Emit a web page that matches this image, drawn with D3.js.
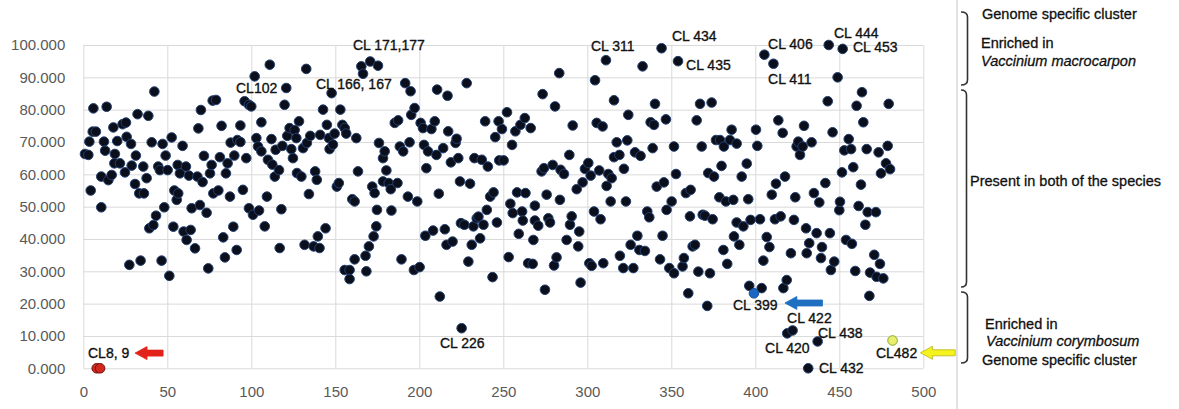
<!DOCTYPE html>
<html>
<head>
<meta charset="utf-8">
<script src="https://cdn.jsdelivr.net/npm/d3@7"></script>
<style>
  html, body { margin: 0; padding: 0; background: #fff; }
  svg { display: block; font-family: "Liberation Sans", Arial, sans-serif; }
</style>
</head>
<body>
<script>
//Cluster number (x) and value (y) of every dark point.
var clusterPoints = [
  [1,66.3],[3,66],[3.6,70.1],[4.4,55],[6,80.4],[5.6,73.2],[7.5,73.2],[10.7,59.3],[10.7,49.8],[12.3,70.1],
  [13,67.3],[13.9,80.9],[14.9,58.2],[16.9,59.8],[17.9,74.5],[18.8,66.3],[18.5,63.4],[20.2,70.3],[21.8,63.4],[23.4,75.5],
  [25.4,76],[24.8,60.6],[25.8,71.6],[27.4,32],[28.4,69.4],[28.8,62.7],[30.8,57],[31.3,65.8],[32.3,78.6],[33.3,54.1],
  [34.1,33.3],[35.7,62.4],[36.1,54.1],[37.7,58.8],[38.7,78.1],[39.3,43.3],[40.7,69.9],[41.7,44.3],[42.3,85.6],[43.3,47.2],
  [44.6,62.4],[45.6,61.3],[46.6,33.3],[47.2,69.4],[48.2,49.8],[49,65.8],[50.2,61.3],[51.2,28.6],[52.6,71.4],[53.6,43.8],
  [54.2,55],[55.6,52.1],[56.2,62.9],[56.5,54.1],[57.5,60.3],[59.1,68.8],[59.7,42.3],[61.1,62.4],[61.5,39.7],[62.9,59.6],
  [63.9,42.8],[64.5,49.5],[66.5,37.1],[67.9,59.3],[68.5,74.2],[69.4,50.5],[70,79.9],[71,57.6],[71.8,65.7],[73.4,48.1],
  [74.4,30.9],[75.4,60.3],[76.4,62.9],[77,82.8],[77.4,54.1],[79,83],[80.4,55],[81.3,65.3],[82.3,75],[83.3,40.5],
  [84.3,34.3],[84.9,60.3],[85.9,63.4],[87.3,53.1],[87.7,69.8],[89.3,43.8],[89.9,65.8],[91.3,36.6],[91.7,70.6],[93.5,70],
  [93.5,75.1],[95,55.2],[97,65],[96,82.6],[98.6,81.5],[100,81],[102,90.3],[98.6,49.5],[101,47.5],[104.6,48.8],
  [108,43.9],[106,76.1],[103,71.2],[104,68.6],[106,67.1],[109.3,53.1],[109.9,64.5],[111,93.9],[112,70.9],[112.5,63],
  [114,59.3],[114.5,67.6],[116.5,61.3],[117.9,49.2],[116.9,37.2],[118.5,68.8],[119.8,81.5],[120.8,86.7],[121.4,71.9],[122.8,74.3],
  [123.8,67.8],[124.8,65],[125.8,73.7],[126.8,71.2],[128.4,76.4],[127.2,60.4],[129.8,59.3],[130.8,68.1],[131.7,38.2],[132.7,92.6],
  [133.1,69.7],[134.3,53.9],[135.1,71.9],[137.1,37.7],[138,60.9],[139,58.3],[139.6,40.8],[140.6,37.2],[141,72.2],[142.7,80],
  [144.2,43.3],[145,75.3],[146.2,71.2],[146.6,67.8],[147.8,85.1],[148.6,69.2],[149.6,72.6],[150.9,56.2],[152.1,57.3],[153,80],
  [154.2,75.3],[155.6,74.3],[156.5,72.6],[155.6,30.4],[158.5,30.4],[158.5,27.6],[160.1,52.3],[161.5,51.6],[161.5,33.7],[162.5,71.2],
  [163.5,60.9],[165.5,93.4],[166.5,91.1],[168,34.8],[168.5,30],[170,37.7],[170.8,94.9],[172,56.2],[172.8,40.8],[173.4,54.2],
  [174.4,43.9],[174.8,49],[175.4,93.6],[176,69.7],[178.4,65],[179.4,67.1],[180.4,61.2],[178.4,57.8],[181.8,57.3],[183,55.4],
  [183.4,48.8],[185.4,75.9],[187.4,76.7],[187,57.3],[188.4,68.6],[190.4,67.1],[189.4,33.7],[191.6,88.2],[193.2,53.1],[194.2,69.9],
  [194.8,85.7],[195.2,78.4],[197.2,80.5],[196.8,30.4],[198.8,51.6],[200.2,31.3],[200.8,75.9],[202.2,74.3],[202.8,69.1],[204.2,61.9],
  [203.6,41],[205.2,67.1],[207.2,74],[208.2,42.6],[209.2,76.4],[210.2,66],[210.6,86.2],[211.6,54],[212.2,22.2],[214.2,68.1],
  [215.2,43],[216.2,38.2],[216.8,84.3],[217.2,73.3],[218.8,63.7],[219.8,39.2],[221.6,69.7],[222.2,71],[223.2,65],[224.2,57.8],
  [225.2,12.4],[224.8,44.9],[226.8,44.4],[228.2,88.2],[229.2,33],[230.2,57.1],[231.2,38.2],[232.2,43.9],[232.8,65],[234.2,46.4],
  [235.2,46.9],[236.2,40.2],[237.2,64.5],[238.2,44.4],[239.2,76.4],[240.2,49],[240.8,62.4],[242.2,53.1],[243.6,28.2],[244.2,54.4],
  [245.2,71.5],[246.2,45.1],[247.2,76.4],[247.6,64.3],[249.2,74],[250.2,64.3],[252.2,79.2],[253.2,34.4],[254.2,50.9],[255.2,69.1],
  [255.6,48],[257.2,73.3],[258.2,54.4],[259.2,41.6],[260.2,75.3],[261.2,48.5],[261.6,45.7],[262.8,77.4],[263.2,54.2],[264.8,32.5],
  [266.3,74.3],[267.9,39.7],[267.5,32.3],[268.8,50.3],[268.8,45.7],[270.8,44.1],[272.8,60.9],[273.4,84.8],[274.2,61.9],[274.8,24.3],
  [275.8,53.7],[276.8,46.4],[277.8,45.1],[279.4,62.9],[280.2,31.8],[280.8,81],[281.7,34.3],[283.3,91.3],[283.7,52.1],[284.1,61.4],
  [286.1,60.1],[287.7,39.7],[289.3,66],[289.7,44.4],[290.7,47],[291.3,75.1],[293.7,55.4],[294.6,37.7],[295.2,42.3],[296,26.5],
  [297.2,57.5],[298.6,61.7],[300.6,63.5],[301.2,32.5],[302,59.6],[302.6,31.7],[304,48.5],[304.6,89.1],[305.6,75.9],[307.1,61.2],
  [307.9,46.1],[309.1,74.8],[309.5,32.5],[311.1,95.3],[311.5,56.4],[312.5,60.1],[313.9,51.6],[314.5,58.8],[315.9,82.9],[315.9,65.3],
  [317.5,69.9],[319.1,66],[319.4,34.8],[321.4,31],[321.8,61.7],[323,51.6],[323.8,70.5],[324.4,78.4],[325.8,38.2],[327.4,31],
  [328.4,66.8],[329.8,41],[331,36.6],[331.7,65.7],[332.9,93.4],[334.3,36.3],[335.7,48.5],[336.9,46.7],[337.7,76.1],[338.9,68.1],
  [339.7,75.3],[340.3,81.8],[341.3,56.2],[343.3,33.7],[344.2,99],[344.8,41],[345.6,57.5],[346.8,77],[347.2,49],[348.8,31],
  [350.2,51.6],[351.6,29.4],[351.6,68.6],[352.8,60.1],[354,95],[356.7,31.5],[357.5,34.1],[358.7,54.2],[360.1,23.2],[361.5,55.2],
  [361.1,47],[362.7,37.7],[364.1,38.2],[365.1,76.7],[366.1,29.9],[367.1,81.8],[368.1,68.6],[368.7,47.5],[370,47.2],[371.4,19.3],
  [372,60.4],[373,29.4],[374,82.2],[374.6,46.1],[375.4,59.3],[376.6,70.6],[378.6,52.9],[379,70.6],[379.9,62.6],[381,36.6],
  [381.3,68.6],[382.5,51.6],[383.3,32.3],[384.9,70.6],[385.9,73.8],[386.9,52.1],[387.3,40.8],[388.9,69.5],[388.9,45.1],[390.5,38.2],
  [391.9,59.3],[392.9,43.9],[394.9,63.3],[395.8,52.3],[396.4,25.5],[397.2,45.9],[400.4,73.8],[401.2,68.8],[402.8,46.1],[403.8,24.8],
  [404.8,33.3],[406.8,40.6],[405.4,97],[408.4,37.5],[409.8,53.7],[410.8,94.2],[411.7,46.1],[412.3,57.1],[413.7,76.7],[415.1,47],
  [416.3,72.8],[416.7,24.8],[417.7,59.3],[418.7,27.3],[419,10.8],[421.2,35.6],[422.2,11.7],[423,45.9],[423.8,52.9],[424.6,68.6],
  [425.6,70.1],[426.6,66],[428.2,68.6],[429,75],[430.2,43.3],[430.6,35.6],[431.5,0],[432.1,38.7],[433.5,69.9],[434.9,54.2],
  [436.5,41.8],[438.1,51.3],[439.7,37.5],[439.1,34.1],[437.1,8.3],[441.7,57.3],[443.1,82.6],[443.7,100],[444.4,41.8],[445,30.4],
  [446,73],[447,33],[449,90],[450,48.9],[450.4,51.5],[451.6,60.6],[452,98.8],[453,67.4],[454,39.7],[455.6,70.9],
  [457,67.8],[457.5,38.5],[458.3,62.2],[459.5,30.1],[460.3,81.2],[461.5,50.2],[462.9,56.8],[463.5,85.4],[464.3,76.1],[465.5,44.4],
  [466.3,67.8],[466.9,48.3],[468.3,29.6],[467.9,22.4],[470.8,35.1],[471.8,48.3],[472.2,28.3],[473.4,66.8],[474.2,32.3],[474.8,60.3],
  [476.2,27.8],[477.8,63.4],[478.8,68.8],[479.4,81.8],[480.2,61.6]
];

//Highlighted clusters.
var redPoints = [[8,0],[10,0]];
var bluePoints = [[399.2,23.2]];
var yellowPoints = [[481.7,8.6]];

//Axis ticks.
var xTicks = [0,50,100,150,200,250,300,350,400,450,500];
var yTicks = [0,10,20,30,40,50,60,70,80,90,100];

//Cluster labels: text, x and y (in data units, left / middle of the text).
var clusterLabels = [
  ["CL102",90.9,86.6],["CL 171,177",160.5,99.9],["CL 166, 167",138.5,87.9],["CL 311",302.2,99.8],
  ["CL 434",350.4,102.9],["CL 435",358.8,93.9],["CL 406",407.6,100.4],["CL 411",407.6,89.3],
  ["CL 444",446.8,103.8],["CL 453",458.1,99.2],["CL 399",386.7,19.4],["CL 422",418.9,15.6],
  ["CL 420",405.8,6.1],["CL 438",437.3,10.9],["CL 432",437.9,0],["CL482",471.8,4.8],
  ["CL 226",212.3,7.8],["CL8, 9",2.8,4.8]
];

//Arrows: tail x, tip x, y (data units).
var arrows = [
  {tail: 47.5, tip: 30.8, y: 4.7, color: "#e2231a", line: "#e2231a"},
  {tail: 440, tip: 417.6, y: 20.2, color: "#1f6fc0", line: "#1f6fc0"},
  {tail: 519, tip: 498.3, y: 4.8, color: "#f6f21c", line: "#b9b41a"}
];

//Chart area.
var width = 1179, height = 409;
var plotL = 83.3, plotR = 923.3, plotT = 45, plotB = 368.3;

var svg = d3.select("body").append("svg").attr("width", width).attr("height", height);
svg.append("rect").attr("width", width).attr("height", height).attr("fill", "#fff");

var x = d3.scaleLinear().domain([0, 500]).range([plotL, plotR]);
var y = d3.scaleLinear().domain([0, 100]).range([plotB, plotT]);

//Gridlines.
var gridX = svg.append("g").attr("transform", "translate(0," + plotB + ")")
  .call(d3.axisBottom(x).tickValues(xTicks).tickSize(-(plotB - plotT)).tickFormat(""));
var gridY = svg.append("g").attr("transform", "translate(" + plotL + ",0)")
  .call(d3.axisLeft(y).tickValues(yTicks).tickSize(-(plotR - plotL)).tickFormat(""));
[gridX, gridY].forEach(function(g) {
  g.select(".domain").remove();
  g.selectAll("line").attr("stroke", "#d9d9d9").attr("stroke-width", 1);
});

//Tick labels.
var xAxis = svg.append("g").attr("transform", "translate(0," + plotB + ")")
  .call(d3.axisBottom(x).tickValues(xTicks).tickSize(0).tickPadding(18));
var yAxis = svg.append("g").attr("transform", "translate(" + plotL + ",0)")
  .call(d3.axisLeft(y).tickValues(yTicks).tickSize(0).tickPadding(18).tickFormat(d3.format(".3f")));
[xAxis, yAxis].forEach(function(g) {
  g.select(".domain").remove();
  g.selectAll("text").attr("fill", "#595959").style("font-size", "15px")
    .style("font-family", "'Liberation Sans', Arial, sans-serif");
});

//Points.
function drawPoints(data, fill, stroke) {
  svg.append("g").selectAll("circle").data(data).enter().append("circle")
    .attr("cx", function(d) { return x(d[0]); })
    .attr("cy", function(d) { return y(d[1]); })
    .attr("r", 4.8)
    .attr("fill", fill)
    .attr("stroke", stroke)
    .attr("stroke-width", 1);
}
drawPoints(clusterPoints, "#0b0f1c", "#24406f");
drawPoints(redPoints, "#d3271c", "#6e1610");
drawPoints(bluePoints, "#1b67c4", "#174f98");
drawPoints(yellowPoints, "#e9ef6c", "#86a82e");

//Arrows.
arrows.forEach(function(a) {
  var x0 = x(a.tail), x1 = x(a.tip), cy = y(a.y);
  var dir = x1 < x0 ? 1 : -1;
  var headL = 12, shaftH = 3, headH = 6.5;
  var hx = x1 + dir * headL;
  var path = "M" + x0 + "," + (cy - shaftH) + "L" + hx + "," + (cy - shaftH) + "L" + hx + "," + (cy - headH) +
    "L" + x1 + "," + cy + "L" + hx + "," + (cy + headH) + "L" + hx + "," + (cy + shaftH) + "L" + x0 + "," + (cy + shaftH) + "Z";
  svg.append("path").attr("d", path).attr("fill", a.color).attr("stroke", a.line).attr("stroke-width", 0.8);
});

//Cluster labels (thin stroke makes them as heavy as the scanned original).
svg.append("g").selectAll("text").data(clusterLabels).enter().append("text")
  .attr("x", function(d) { return x(d[1]); })
  .attr("y", function(d) { return y(d[2]); })
  .attr("dy", "0.35em")
  .attr("fill", "#111")
  .attr("stroke", "#111")
  .attr("stroke-width", 0.35)
  .style("font-size", "14px")
  .text(function(d) { return d[0]; });

//Right side panel.
svg.append("line").attr("x1", 957).attr("x2", 957).attr("y1", 0).attr("y2", height)
  .attr("stroke", "#cfcfcf").attr("stroke-width", 1.2);

function brace(x0, x1, y0, y1) {
  var r = 5;
  return "M" + x0 + "," + y0 + "Q" + x1 + "," + y0 + " " + x1 + "," + (y0 + r) +
    "L" + x1 + "," + (y1 - r) + "Q" + x1 + "," + y1 + " " + x0 + "," + y1;
}
[[961, 967.5, 12, 85], [961, 966.5, 90, 287], [961, 967.5, 292, 363]].forEach(function(b) {
  svg.append("path").attr("d", brace(b[0], b[1], b[2], b[3]))
    .attr("fill", "none").attr("stroke", "#333").attr("stroke-width", 1.6);
});

var sideText = [
  ["Genome specific cluster", 982, 14, false],
  ["Enriched in", 981, 43, false],
  ["Vaccinium macrocarpon", 981, 61, true],
  ["Present in both of the species", 970, 181, false],
  ["Enriched in", 985, 324, false],
  ["Vaccinium corymbosum", 986, 341, true],
  ["Genome specific cluster", 982, 360, false]
];
svg.append("g").selectAll("text").data(sideText).enter().append("text")
  .attr("x", function(d) { return d[1]; })
  .attr("y", function(d) { return d[2]; })
  .attr("dy", "0.35em")
  .attr("fill", "#111")
  .attr("stroke", "#111")
  .attr("stroke-width", 0.3)
  .style("font-size", "14.5px")
  .style("font-style", function(d) { return d[3] ? "italic" : "normal"; })
  .text(function(d) { return d[0]; });
</script>
</body>
</html>
